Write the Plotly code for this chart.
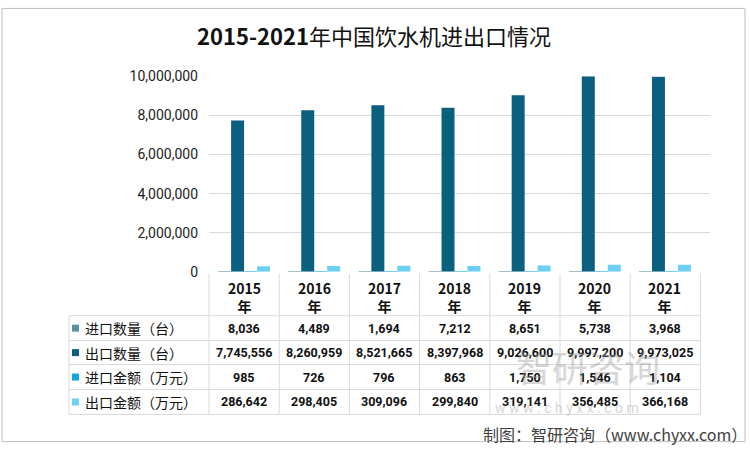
import plotly.graph_objects as go

# data
years = ["2015", "2016", "2017", "2018", "2019", "2020", "2021"]
import_qty = [8036, 4489, 1694, 7212, 8651, 5738, 3968]            # 进口数量（台）
export_qty = [7745556, 8260959, 8521665, 8397968, 9026600, 9997200, 9973025]  # 出口数量（台）
import_amt = [985, 726, 796, 863, 1750, 1546, 1104]                # 进口金额（万元）
export_amt = [286642, 298405, 309096, 299840, 319141, 356485, 366168]  # 出口金额（万元）

series_names = ["进口数量（台）", "出口数量（台）", "进口金额（万元）", "出口金额（万元）"]
series_values = [import_qty, export_qty, import_amt, export_amt]
colors = ["#5A90A6", "#0B5F7F", "#10A8DF", "#6CD0F5"]

W, H = 750, 450
# the snapshot squeezes the page a little vertically; measured: screen_y ~ 0.967 * fig_y + 6.5
SY, OY = 0.967, 6.5
FONT = "Noto Sans CJK SC"
NUMFONT = "Roboto"


def px(x):
    return x / W


def py(y):
    return 1 - ((y - OY) / SY) / H


fig = go.Figure()
for name, vals, c in zip(series_names, series_values, colors):
    fig.add_trace(go.Bar(x=years, y=vals, name=name, marker=dict(color=c, line=dict(width=0)),
                         showlegend=False))

# categories span 209..700 px, gridlines run on to ~710 px (back wall of the 3D chart)
extra = 10 / 70.2
fig.update_layout(
    width=W, height=H, autosize=False,
    margin=dict(l=0, r=0, t=0, b=0),
    paper_bgcolor="white", plot_bgcolor="white",
    barmode="group", bargap=0.26, bargroupgap=0,
    font=dict(family=FONT, color="#222222"),
    xaxis=dict(type="category", categoryorder="array", categoryarray=years,
               range=[-0.5, len(years) - 0.5 + extra], domain=[px(209), px(710)],
               showticklabels=False, showgrid=False, zeroline=False, showline=False),
    yaxis=dict(domain=[py(271), py(75)], range=[0, 10000000], dtick=2000000,
               tickformat=",", gridcolor="#D9D9D9", gridwidth=1, zeroline=False,
               showline=False, ticks="", ticklabelstandoff=10,
               tickfont=dict(family=NUMFONT, size=14, color="#222222")),
)

# title
fig.add_annotation(xref="paper", yref="paper", x=px(374), y=py(34),
                   text="<b>2015-2021</b>年中国饮水机进出口情况",
                   showarrow=False, font=dict(size=22, family=FONT, color="#111111"),
                   xanchor="center", yanchor="middle")

shapes = []
line_c = "#D9D9D9"
# outer border
shapes.append(dict(type="rect", xref="paper", yref="paper", x0=px(2), x1=px(745), y0=0.001, y1=0.999,
                   line=dict(color="#BFBFBF", width=1)))
# table grid
col_edges = [209 + 70.2 * i for i in range(len(years) + 1)]
row_edges = [315, 340, 364, 389, 414]
for xe in col_edges:
    shapes.append(dict(type="line", xref="paper", yref="paper", x0=px(xe), x1=px(xe), y0=py(273), y1=py(414),
                       line=dict(color=line_c, width=1)))
shapes.append(dict(type="line", xref="paper", yref="paper", x0=px(69), x1=px(69), y0=py(315), y1=py(414),
                   line=dict(color=line_c, width=1)))
for ye in row_edges:
    shapes.append(dict(type="line", xref="paper", yref="paper", x0=px(69), x1=px(col_edges[-1]), y0=py(ye), y1=py(ye),
                       line=dict(color=line_c, width=1)))

# header labels (x by category index on the x axis)
for i, yr in enumerate(years):
    fig.add_annotation(xref="x", yref="paper", x=i, y=py(296), text=f"<b>{yr}<br>年</b>", showarrow=False,
                       font=dict(size=14, family=FONT, color="#111111"), yanchor="middle")

# rows
for r, (name, vals, c) in enumerate(zip(series_names, series_values, colors)):
    yc = (row_edges[r] + row_edges[r + 1]) / 2
    shapes.append(dict(type="rect", xref="paper", yref="paper", x0=px(72), x1=px(79), y0=py(yc + 3.5), y1=py(yc - 3.5),
                       fillcolor=c, line=dict(width=0)))
    fig.add_annotation(xref="paper", yref="paper", x=px(83), y=py(yc), text=name, showarrow=False,
                       font=dict(size=14, family=FONT, color="#111111"), xanchor="left", yanchor="middle")
    for i, v in enumerate(vals):
        fig.add_annotation(xref="x", yref="paper", x=i, y=py(yc), text=f"<b>{v:,}</b>", showarrow=False,
                           font=dict(size=12.5, family=NUMFONT, color="#111111"), yanchor="middle")

# watermark
fig.add_annotation(xref="paper", yref="paper", x=px(662), y=py(394), text="智研咨询", showarrow=False,
                   font=dict(size=36, family=FONT, color="#9A9A9A"), opacity=0.4)
fig.add_annotation(xref="paper", yref="paper", x=px(641), y=py(418), text="w w w . c h y x x . c o m",
                   showarrow=False, font=dict(size=14, family=NUMFONT, color="#9A9A9A"), opacity=0.4)

# source
fig.add_annotation(xref="paper", yref="paper", x=px(749), y=py(434), text="制图：智研咨询（www.chyxx.com）",
                   showarrow=False, font=dict(size=16, family=FONT, color="#404040"),
                   xanchor="right", yanchor="middle")

fig.update_layout(shapes=shapes)
fig.write_html("out.html", config={"displayModeBar": False},
               post_script="document.body.style.margin='0';")
